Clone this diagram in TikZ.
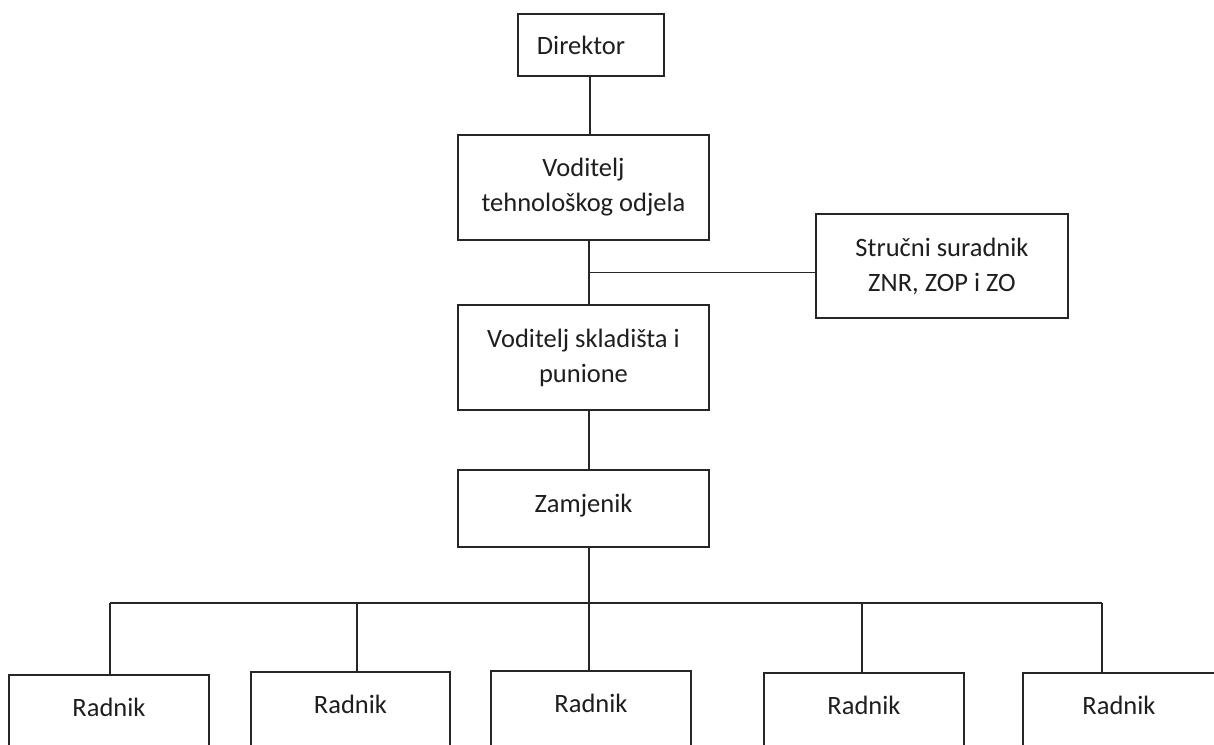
\documentclass[tikz,border=0pt]{standalone}
\usepackage{fontspec}
\setmainfont{Carlito}
\definecolor{ln}{HTML}{262626}
\definecolor{tx}{HTML}{1E1E1E}
\begin{document}
\begin{tikzpicture}[x=1pt,y=-1pt,
  box/.style={draw=ln, line width=1.8pt, rectangle, inner sep=0pt, align=center,
    text=tx, font=\fontsize{26.5}{35}\selectfont},
  radnik/.style={box, anchor=north, minimum height=110pt, text height=20pt, text depth=46pt},
  conn/.style={draw=ln, line width=1.8pt}]
\useasboundingbox (0,0) rectangle (1214,744);
\clip (0,0) rectangle (1214,744);
\node[box, minimum width=146pt, minimum height=62pt] (dir) at (591,45) {Direktor\kern20pt};
\node[box, minimum width=251pt, minimum height=105pt] (vt) at (583.5,187.5) {Voditelj\\tehnološkog odjela};
\node[box, minimum width=252pt, minimum height=104pt] (ss) at (942,266) {Stručni suradnik\\ZNR, ZOP i ZO};
\node[box, minimum width=251pt, minimum height=105pt] (vs) at (583.5,357.5) {Voditelj skladišta i\\punione};
\node[box, minimum width=251pt, minimum height=77pt, text depth=10pt] (zam) at (583.5,508.5) {Zamjenik};
\node[radnik, minimum width=200pt] (r1) at (109,674) {Radnik};
\node[radnik, minimum width=199pt] (r2) at (350.5,671) {Radnik};
\node[radnik, minimum width=200pt] (r3) at (591,670) {Radnik};
\node[radnik, minimum width=200pt] (r4) at (864,672) {Radnik};
\node[radnik, minimum width=192pt] (r5) at (1119,672) {Radnik};
\coordinate (d) at (590,0);
\coordinate (t) at (589,272.5);
\coordinate (b1) at (110,603);
\coordinate (b2) at (357,603);
\coordinate (b3) at (589,603);
\coordinate (b4) at (862,603);
\coordinate (b5) at (1102,603);
\draw[conn] (dir.south -| d) -- (vt.north -| d);
\draw[conn] (vt.south -| t) -- (vs.north -| t);
\draw[conn] (t) -- (t -| ss.west);
\draw[conn] (vs.south -| t) -- (zam.north -| t);
\draw[conn] (zam.south -| b3) -- (b3 |- r3.north);
\draw[conn] (b1) -- (b5);
\draw[conn] (b1) -- (b1 |- r1.north);
\draw[conn] (b2) -- (b2 |- r2.north);
\draw[conn] (b4) -- (b4 |- r4.north);
\draw[conn] (b5) -- (b5 |- r5.north);
\end{tikzpicture}
\end{document}
